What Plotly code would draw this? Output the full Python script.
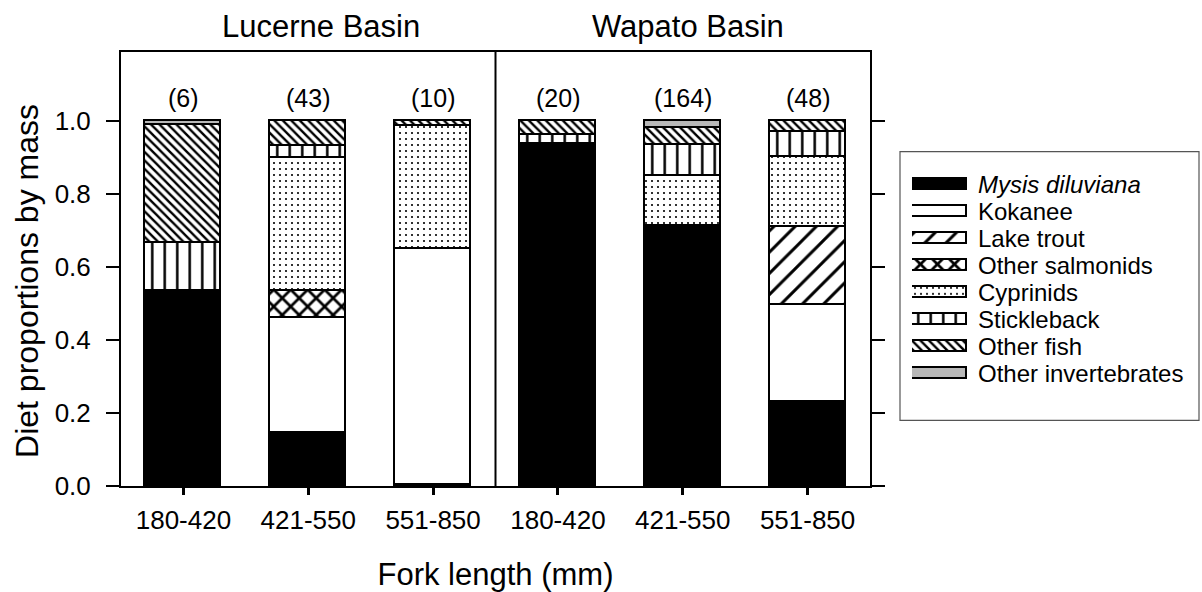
import plotly.graph_objects as go

# Fork-length classes per basin
basins = ["Lucerne Basin", "Wapato Basin"]
length_classes = ["180-420", "421-550", "551-850", "180-420", "421-550", "551-850"]
sample_sizes = ["(6)", "(43)", "(10)", "(20)", "(164)", "(48)"]

# Diet proportions by mass, one value per fork-length class (Lucerne x3, Wapato x3)
mysis = [0.536, 0.145, 0.004, 0.938, 0.712, 0.231]
kokanee = [0.0, 0.315, 0.645, 0.0, 0.0, 0.264]
lake_trout = [0.0, 0.0, 0.0, 0.0, 0.0, 0.214]
other_salmonids = [0.0, 0.074, 0.0, 0.0, 0.0, 0.0]
cyprinids = [0.0, 0.364, 0.337, 0.0, 0.139, 0.193]
stickleback = [0.130, 0.033, 0.0, 0.025, 0.083, 0.068]
other_fish = [0.323, 0.069, 0.014, 0.037, 0.047, 0.030]
other_invertebrates = [0.011, 0.0, 0.0, 0.0, 0.019, 0.0]

prey_names = ["<i>Mysis diluviana</i>", "Kokanee", "Lake trout", "Other salmonids",
              "Cyprinids", "Stickleback", "Other fish", "Other invertebrates"]
prey_values = [mysis, kokanee, lake_trout, other_salmonids, cyprinids,
               stickleback, other_fish, other_invertebrates]

FONT = "Liberation Sans, Arial, sans-serif"
W, H = 1202, 592
L, R, T, B = 121, 870, 52, 488   # main plot frame in pixels
PR = 1200                        # right edge of the paper area


def px_x(p):
    return (p - L) / (PR - L)


def px_y(p):
    return (B - p) / (B - T)


# fill style for each prey group
styles = [
    dict(color="black"),
    dict(color="white"),
    dict(color="white", pattern=dict(shape="/", fgcolor="black", bgcolor="white", size=15, solidity=0.2, fillmode="replace")),
    dict(color="white", pattern=dict(shape="x", fgcolor="black", bgcolor="white", size=12, solidity=0.4, fillmode="replace")),
    dict(color="white", pattern=dict(shape=".", fgcolor="black", bgcolor="white", size=6, solidity=0.1, fillmode="replace")),
    dict(color="white", pattern=dict(shape="|", fgcolor="black", bgcolor="white", size=12.5, solidity=0.2, fillmode="replace")),
    dict(color="white", pattern=dict(shape="\\", fgcolor="black", bgcolor="white", size=6, solidity=0.4, fillmode="replace")),
    dict(color="#b8b8b8"),
]

xpos = list(range(len(length_classes)))
fig = go.Figure()

for name, vals, st in zip(prey_names, prey_values, styles):
    fig.add_trace(go.Bar(
        x=xpos, y=vals, name=name, width=0.61,
        marker=dict(line=dict(color="black", width=1.6), **st),
        showlegend=False, hoverinfo="skip",
    ))

# key swatches drawn as horizontal bars on their own small axes
for i, (name, st) in enumerate(zip(prey_names, styles)):
    fig.add_trace(go.Bar(
        x=[1], y=[i], orientation="h", width=0.42, xaxis="x2", yaxis="y2",
        marker=dict(line=dict(color="black", width=1.6), **st),
        showlegend=False, hoverinfo="skip",
    ))

sw_top, sw_step = 171.4, 27.14
fig.update_layout(
    width=W, height=H,
    margin=dict(l=L, r=W - PR, t=T, b=H - B, pad=0),
    plot_bgcolor="rgba(0,0,0,0)", paper_bgcolor="white",
    barmode="stack", bargap=0,
    font=dict(family=FONT, size=24, color="black"),
    xaxis=dict(
        domain=[0, px_x(R)],
        range=[-0.5, 5.5], tickvals=xpos, ticktext=length_classes,
        showline=True, linecolor="black", linewidth=2, mirror=True,
        ticks="outside", ticklen=7, tickwidth=2.5, tickcolor="black",
        ticklabelstandoff=3,
        showgrid=False, zeroline=False,
        tickfont=dict(size=26),
        title=dict(text="Fork length (mm)", font=dict(size=31), standoff=33),
    ),
    yaxis=dict(
        range=[0, 1.19], tickvals=[0, 0.2, 0.4, 0.6, 0.8, 1.0], tickformat=".1f",
        showline=True, linecolor="black", linewidth=2, mirror="ticks",
        ticks="outside", ticklen=13, tickwidth=1.5, tickcolor="black",
        ticklabelstandoff=10,
        showgrid=False, zeroline=False,
        tickfont=dict(size=26),
    ),
    xaxis2=dict(domain=[px_x(912), px_x(967)], range=[0, 1], anchor="y2",
                visible=False, fixedrange=True),
    yaxis2=dict(domain=[px_y(sw_top + 8 * sw_step), px_y(sw_top)], range=[7.5, -0.5],
                anchor="x2", visible=False, fixedrange=True),
)

# divider between the two basins
fig.add_shape(type="line", xref="x", yref="y domain", x0=2.5, x1=2.5, y0=0, y1=1,
              line=dict(color="black", width=2))

# key frame
fig.add_shape(type="rect", xref="paper", yref="paper",
              x0=px_x(900), x1=px_x(1199), y0=px_y(152), y1=px_y(422),
              line=dict(color="#555555", width=1.2), fillcolor="rgba(0,0,0,0)", layer="below")

annotations = []
# y-axis title, set slightly below the frame's middle
annotations.append(dict(text="Diet proportions by mass", xref="paper", yref="paper",
                        x=px_x(27), y=px_y(282), xanchor="center", yanchor="middle",
                        textangle=-90, showarrow=False, font=dict(size=32)))
# basin titles
for text, cx in zip(basins, [321, 688]):
    annotations.append(dict(text=text, xref="paper", yref="paper", x=px_x(cx), y=px_y(26),
                            xanchor="center", yanchor="middle", showarrow=False,
                            font=dict(size=31)))
# sample sizes above bars
for x, n in zip(xpos, sample_sizes):
    annotations.append(dict(text=n, xref="x", yref="y", x=x, y=1.065,
                            xanchor="center", yanchor="middle", showarrow=False,
                            font=dict(size=25)))
# key labels
for i, name in enumerate(prey_names):
    annotations.append(dict(text=name, xref="paper", yref="paper", x=px_x(976),
                            y=px_y(sw_top + (i + 0.5) * sw_step),
                            xanchor="left", yanchor="middle", showarrow=False,
                            font=dict(size=24)))
fig.update_layout(annotations=annotations)

fig.write_html("out.html")
